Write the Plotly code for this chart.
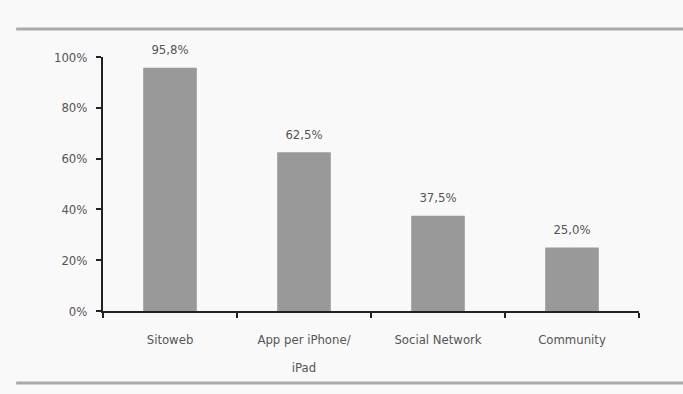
import plotly.graph_objects as go

categories = ["Sitoweb", "App per iPhone/<br>iPad", "Social Network", "Community"]
values = [95.8, 62.5, 37.5, 25.0]
value_labels = [f"{v:.1f}".replace(".", ",") + "%" for v in values]
y_ticks = [0, 20, 40, 60, 80, 100]
y_tick_text = [f"{t}%" for t in y_ticks]

FONT = "DejaVu Sans Condensed, Liberation Sans Narrow, Arial Narrow, sans-serif"
TXT = "#555555"

x_tick_text = [f"<span style='font-size:13px'>{c.replace('<br>', '</span><br><span style=\"font-size:13px\">')}</span>" for c in categories]
bar_text = [f"<span style='font-size:13px'>{t}</span><br><span style='font-size:2px'>.</span>" for t in value_labels]

fig = go.Figure(go.Bar(
    x=list(range(len(categories))), y=values, text=bar_text, textposition="outside",
    textfont=dict(family=FONT, size=8, color=TXT),
    marker=dict(color="#999999", line=dict(width=0)),
    width=0.4, cliponaxis=False, constraintext="none",
))

fig.update_layout(
    width=683, height=394,
    margin=dict(l=103, r=44, t=57, b=83),
    paper_bgcolor="#f9f9f9", plot_bgcolor="#f9f9f9",
    showlegend=False,
    font=dict(family=FONT, size=13, color=TXT),
    shapes=[
        dict(type="line", xref="paper", yref="paper", x0=-0.162, x1=1.09, y0=1.11, y1=1.11,
             line=dict(color="#aaaaaa", width=3)),
        dict(type="line", xref="paper", yref="paper", x0=-0.162, x1=1.09, y0=-0.283, y1=-0.283,
             line=dict(color="#aaaaaa", width=3)),
    ],
)
fig.update_xaxes(
    type="category", tickson="boundaries", ticks="outside", ticklen=5, tickwidth=2,
    tickvals=list(range(len(categories))), ticktext=x_tick_text,
    tickcolor="#222222", showline=True, linecolor="#222222", linewidth=2,
    showgrid=False, zeroline=False, ticklabelstandoff=5,
    tickfont=dict(family=FONT, size=21.5, color=TXT),
)
fig.update_yaxes(
    range=[0, 100], tickvals=y_ticks, ticktext=y_tick_text, ticks="outside", ticklen=5, tickwidth=2,
    tickcolor="#222222", showline=True, linecolor="#222222", linewidth=2,
    showgrid=False, zeroline=False, ticklabelstandoff=6,
    tickfont=dict(family=FONT, size=13, color=TXT),
)

fig.write_html("out.html")
